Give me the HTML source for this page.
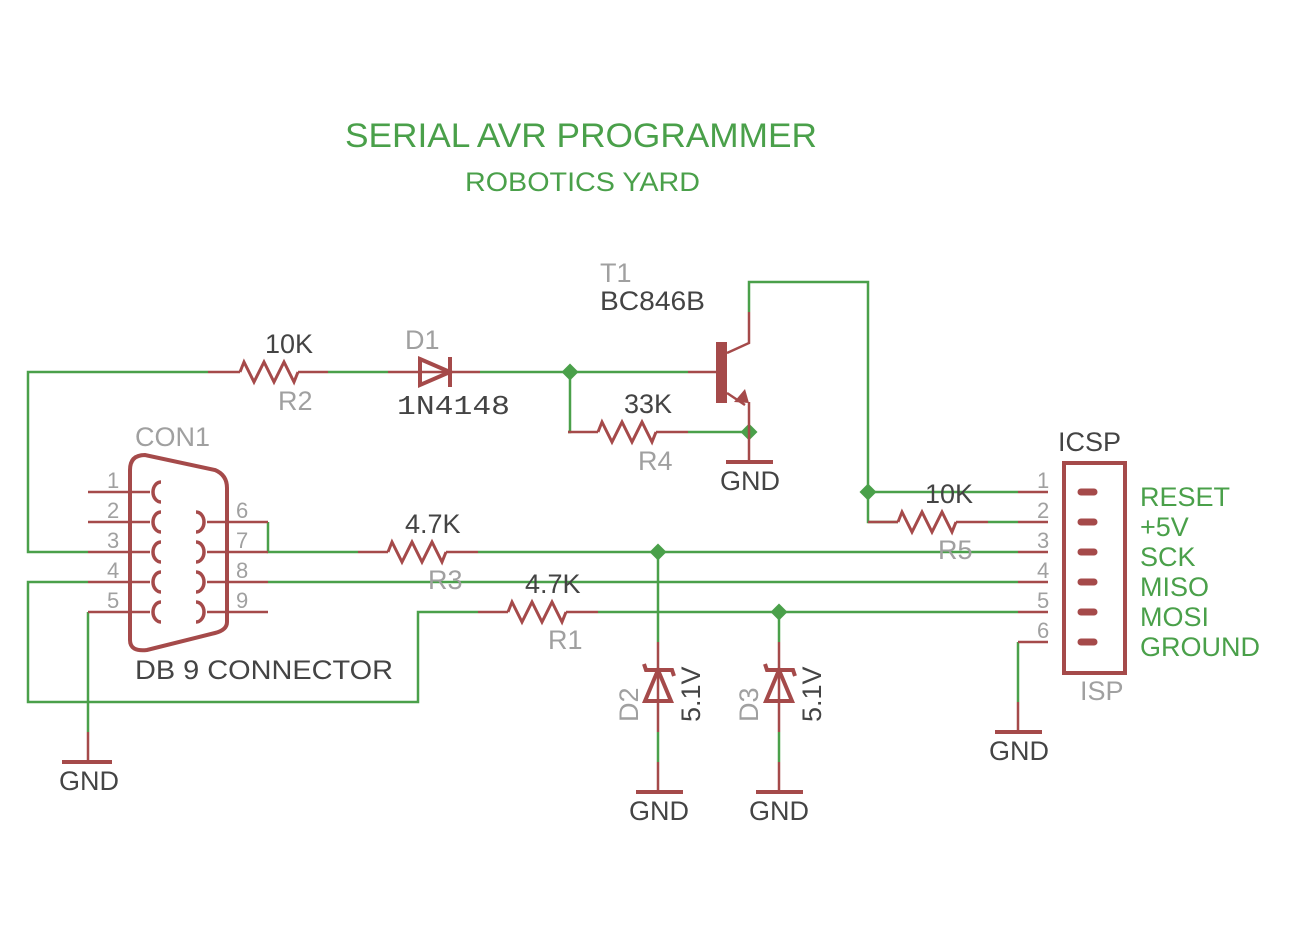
<!DOCTYPE html>
<html><head><meta charset="utf-8"><style>html,body{margin:0;padding:0;background:#fff}svg{display:block}</style></head>
<body>
<svg width="1307" height="942" viewBox="0 0 1307 942" xmlns="http://www.w3.org/2000/svg" font-family="Liberation Sans, sans-serif">
<rect width="1307" height="942" fill="#fff"/>
<text x="345" y="147" fill="#4aa04a" font-size="34" textLength="472" lengthAdjust="spacingAndGlyphs">SERIAL AVR PROGRAMMER</text>
<text x="465" y="191" fill="#4aa04a" font-size="27" textLength="235" lengthAdjust="spacingAndGlyphs">ROBOTICS YARD</text>

<g stroke="#4aa04a" stroke-width="2.5" fill="none">
<polyline points="208,372 28,372 28,552 88,552"/>
<line x1="328" y1="372" x2="388" y2="372"/>
<line x1="480" y1="372" x2="688" y2="372"/>
<polyline points="570,372 570,432 568,432"/>
<line x1="688" y1="432" x2="749" y2="432"/>
<polyline points="749,312 749,282 868,282 868,522 898,522"/>
<line x1="868" y1="492" x2="1018" y2="492"/>
<line x1="988" y1="522" x2="1018" y2="522"/>
<polyline points="268,522 268,552 358,552"/>
<line x1="478" y1="552" x2="1018" y2="552"/>
<line x1="268" y1="582" x2="1018" y2="582"/>
<polyline points="88,582 28,582 28,702 418,702 418,612 478,612"/>
<line x1="598" y1="612" x2="1018" y2="612"/>
<polyline points="88,612 88,732"/>
<line x1="658" y1="552" x2="658" y2="642"/>
<line x1="779" y1="612" x2="779" y2="642"/>
<line x1="658" y1="732" x2="658" y2="762"/>
<line x1="779" y1="732" x2="779" y2="762"/>
<polyline points="1018,642 1018,702"/>
</g>
<g fill="#4aa04a">
<rect x="564" y="366" width="12" height="12" transform="rotate(45 570 372)"/>
<rect x="743" y="426" width="12" height="12" transform="rotate(45 749 432)"/>
<rect x="862" y="486" width="12" height="12" transform="rotate(45 868 492)"/>
<rect x="652" y="546" width="12" height="12" transform="rotate(45 658 552)"/>
<rect x="773" y="606" width="12" height="12" transform="rotate(45 779 612)"/>
</g>

<g stroke="#a54a4a" stroke-width="2.5" fill="none">
<line x1="208" y1="372" x2="240" y2="372"/><line x1="298" y1="372" x2="328" y2="372"/>
<path d="M240,372 l4,-10 l10,20 l10,-20 l10,20 l10,-20 l10,20 l4,-10" stroke-width="3"/>
<line x1="388" y1="372" x2="480" y2="372"/>
<line x1="568" y1="432" x2="598" y2="432"/><line x1="656" y1="432" x2="688" y2="432"/>
<path d="M598,432 l4,-10 l10,20 l10,-20 l10,20 l10,-20 l10,20 l4,-10" stroke-width="3"/>
<line x1="688" y1="372" x2="716" y2="372"/>
<polyline points="727,353 749,343 749,312"/>
<polyline points="727,393 745,405"/>
<line x1="749" y1="402" x2="749" y2="462"/>
<line x1="868" y1="522" x2="898" y2="522"/><line x1="956" y1="522" x2="988" y2="522"/>
<path d="M898,522 l4,-10 l10,20 l10,-20 l10,20 l10,-20 l10,20 l4,-10" stroke-width="3"/>
<line x1="358" y1="552" x2="388" y2="552"/><line x1="446" y1="552" x2="478" y2="552"/>
<path d="M388,552 l4,-10 l10,20 l10,-20 l10,20 l10,-20 l10,20 l4,-10" stroke-width="3"/>
<line x1="478" y1="612" x2="508" y2="612"/><line x1="566" y1="612" x2="598" y2="612"/>
<path d="M508,612 l4,-10 l10,20 l10,-20 l10,20 l10,-20 l10,20 l4,-10" stroke-width="3"/>
<line x1="88" y1="492" x2="150" y2="492"/><line x1="88" y1="522" x2="150" y2="522"/>
<line x1="88" y1="552" x2="150" y2="552"/><line x1="88" y1="582" x2="150" y2="582"/>
<line x1="88" y1="612" x2="150" y2="612"/>
<line x1="207" y1="522" x2="268" y2="522"/><line x1="207" y1="552" x2="268" y2="552"/>
<line x1="207" y1="582" x2="268" y2="582"/><line x1="207" y1="612" x2="268" y2="612"/>
<line x1="658" y1="642" x2="658" y2="732"/><line x1="779" y1="642" x2="779" y2="732"/>
<line x1="658" y1="762" x2="658" y2="792"/><line x1="779" y1="762" x2="779" y2="792"/>
<line x1="1018" y1="492" x2="1048" y2="492"/><line x1="1018" y1="522" x2="1048" y2="522"/>
<line x1="1018" y1="552" x2="1048" y2="552"/><line x1="1018" y1="582" x2="1048" y2="582"/>
<line x1="1018" y1="612" x2="1048" y2="612"/><line x1="1018" y1="642" x2="1048" y2="642"/>
<line x1="1018" y1="702" x2="1018" y2="732"/>
<line x1="88" y1="732" x2="88" y2="762"/>
</g>
<g stroke="#a54a4a" fill="none" stroke-width="4">
<polygon points="420,359 450,372 420,385"/><line x1="450" y1="357" x2="450" y2="387"/>
<line x1="726" y1="462" x2="773" y2="462"/>
<line x1="62" y1="762" x2="112" y2="762"/>
<line x1="636" y1="792" x2="683" y2="792"/>
<line x1="756" y1="792" x2="803" y2="792"/>
<line x1="995" y1="732" x2="1042" y2="732"/>
<polygon points="645,701 658,670 671,701"/><polyline points="644,664 646,670 672,670 674,676"/>
<polygon points="766,701 779,670 792,701"/><polyline points="765,664 767,670 793,670 795,676"/>
<path d="M130,640 L130,470 Q130,455 145,455 L215,470 Q227,475 227,488 L227,622 Q227,630 215,633 L147,650 Q130,652 130,640 Z"/>
<rect x="1064" y="463" width="61" height="210"/>
</g>
<g stroke="#a54a4a" fill="none" stroke-width="3.5">
<path d="M161,482 a8,10 0 0 0 0,20"/><path d="M161,512 a8,10 0 0 0 0,20"/><path d="M161,542 a8,10 0 0 0 0,20"/>
<path d="M161,572 a8,10 0 0 0 0,20"/><path d="M161,602 a8,10 0 0 0 0,20"/>
<path d="M196,512 a8,10 0 0 1 0,20"/><path d="M196,542 a8,10 0 0 1 0,20"/><path d="M196,572 a8,10 0 0 1 0,20"/><path d="M196,602 a8,10 0 0 1 0,20"/>
</g>
<g stroke="#a54a4a" stroke-width="7" stroke-linecap="round">
<line x1="1081" y1="492" x2="1094" y2="492"/><line x1="1081" y1="522" x2="1094" y2="522"/>
<line x1="1081" y1="552" x2="1094" y2="552"/><line x1="1081" y1="582" x2="1094" y2="582"/>
<line x1="1081" y1="612" x2="1094" y2="612"/><line x1="1081" y1="642" x2="1094" y2="642"/>
</g>
<g fill="#a54a4a">
<rect x="716" y="342" width="11" height="61"/>
<polygon points="734,402 749,403 745,389"/>
</g>

<g fill="#444" font-size="27">
<text x="265" y="353">10K</text>
<text x="397" y="414" font-family="Liberation Mono, monospace" textLength="113" lengthAdjust="spacingAndGlyphs">1N4148</text>
<text x="600" y="310" textLength="105" lengthAdjust="spacingAndGlyphs">BC846B</text>
<text x="624" y="413">33K</text>
<text x="720" y="490">GND</text>
<text x="405" y="533">4.7K</text>
<text x="525" y="593">4.7K</text>
<text x="925" y="503">10K</text>
<text x="1058" y="451">ICSP</text>
<text x="135" y="679" textLength="258" lengthAdjust="spacingAndGlyphs">DB 9 CONNECTOR</text>
<text x="59" y="790">GND</text>
<text x="629" y="820">GND</text>
<text x="749" y="820">GND</text>
<text x="989" y="760">GND</text>
<text transform="translate(700,722) rotate(-90)">5.1V</text>
<text transform="translate(821,722) rotate(-90)">5.1V</text>
</g>
<g fill="#a0a0a0" font-size="27">
<text x="278" y="410">R2</text>
<text x="405" y="349">D1</text>
<text x="600" y="282">T1</text>
<text x="638" y="470">R4</text>
<text x="135" y="446">CON1</text>
<text x="428" y="589">R3</text>
<text x="548" y="649">R1</text>
<text x="938" y="559">R5</text>
<text x="1080" y="700">ISP</text>
<text transform="translate(638,722) rotate(-90)">D2</text>
<text transform="translate(758,722) rotate(-90)">D3</text>
</g>
<g fill="#a0a0a0" font-size="22">
<text x="107" y="488">1</text><text x="107" y="518">2</text><text x="107" y="548">3</text>
<text x="107" y="578">4</text><text x="107" y="608">5</text>
<text x="236" y="518">6</text><text x="236" y="548">7</text><text x="236" y="578">8</text><text x="236" y="608">9</text>
<text x="1037" y="488">1</text><text x="1037" y="518">2</text><text x="1037" y="548">3</text>
<text x="1037" y="578">4</text><text x="1037" y="608">5</text><text x="1037" y="638">6</text>
</g>
<g fill="#4aa04a" font-size="27">
<text x="1140" y="506">RESET</text><text x="1140" y="536">+5V</text><text x="1140" y="566">SCK</text>
<text x="1140" y="596">MISO</text><text x="1140" y="626">MOSI</text><text x="1140" y="656">GROUND</text>
</g>
</svg>
</body></html>
